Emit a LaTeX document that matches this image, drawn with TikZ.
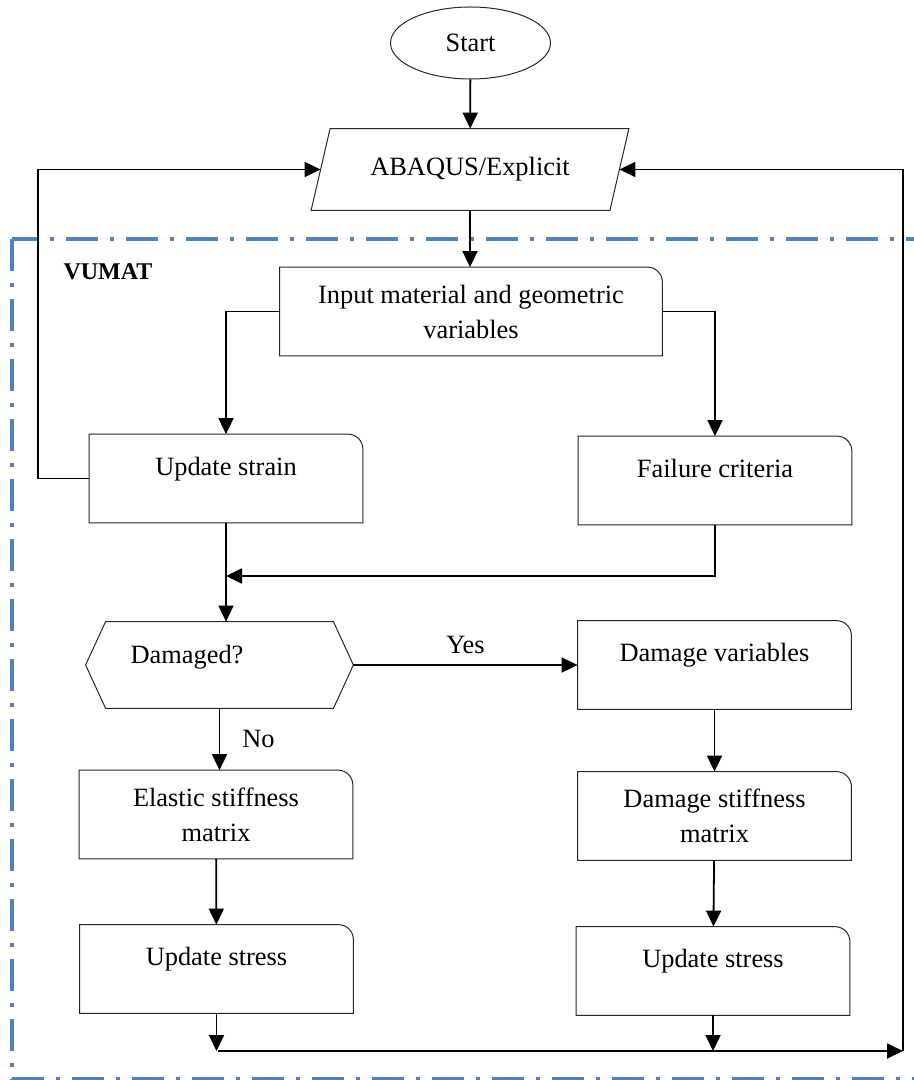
\documentclass[tikz,border=0pt]{standalone}
\usepackage{fontspec}
\setmainfont{Liberation Serif}
\usetikzlibrary{arrows.meta,positioning,shapes.geometric,calc}
\definecolor{frameblue}{RGB}{79,129,189}
\tikzset{
	txt/.style={font=\fontsize{13.2}{17.5}\selectfont, align=center, inner sep=0pt},
	card/.style={txt, minimum width=136.5pt, minimum height=44pt},
	oneline/.style={text height=9pt, text depth=12.3pt},
	box/.style={line width=0.5pt, draw=black!85},
	link/.style={line width=0.9pt},
	arr/.style={link, -{Triangle[length=8pt,width=7.5pt]}}
}
\def\cardshape(#1){\draw[box] (#1.south west) -- (#1.north west) -- ([xshift=-7.5pt]#1.north east) arc (90:0:7.5pt) -- (#1.south east) -- cycle;}
\def\hexshape(#1){\draw[box] (#1.west) -- ([xshift=10pt]#1.north west) -- ([xshift=-10pt]#1.north east) -- (#1.east) -- ([xshift=-10pt]#1.south east) -- ([xshift=10pt]#1.south west) -- cycle;}
\def\slantshape(#1){\draw[box] ([xshift=9.5pt]#1.north west) -- (#1.north east) -- ([xshift=-9.5pt]#1.south east) -- (#1.south west) -- cycle;}

\begin{document}
\begin{tikzpicture}[x=0.5pt, y=-0.5pt]
			%%%%% START %%%%%
			\useasboundingbox (0,0) rectangle (914,1080);
			\clip (0,0) rectangle (914,1080);
			
			\draw[frameblue, line width=1.7pt, dash pattern=on 16pt off 6pt on 2pt off 6pt] (12,239) rectangle (925,1079);
			\node[font=\fontsize{12}{14}\selectfont\bfseries] (vumat) at (108,272) {VUMAT};
			
			\node[txt, ellipse, box, minimum width=80pt, minimum height=36pt] (start) at (470.5,43) {Start};
			\node[txt, minimum width=158.5pt, minimum height=40.5pt] (abaqus) at (470,169.5) {ABAQUS/Explicit};
			\slantshape(abaqus)
			\coordinate (abqin) at ([xshift=4.75pt]abaqus.west);
			\coordinate (abqout) at ([xshift=-4.75pt]abaqus.east);
			
			\node[card, minimum width=191pt] (input) at (471,311.5) {Input material and geometric\\variables};
			\cardshape(input)
			
			\node[card, oneline] (strain) at (226,478.5) {Update strain};
			\cardshape(strain)
			\node[card, oneline] (failure) at (715,480.5) {Failure criteria};
			\cardshape(failure)
			
			\node[txt, minimum width=133.5pt, minimum height=43pt,
				label={[txt, name=dmgtxt, xshift=-16.25pt, yshift=4pt]center:Damaged?}] (dmg) at (219.5,665) {};
			\hexshape(dmg)
			\node[card, oneline] (dvar) at (714.5,665) {Damage variables};
			\cardshape(dvar)
			
			\node[card] (elastic) at (216,814.5) {Elastic stiffness\\matrix};
			\cardshape(elastic)
			\node[card] (dstiff) at (714.5,816) {Damage stiffness\\matrix};
			\cardshape(dstiff)
			
			\node[card, oneline] (stressL) at (216.5,969) {Update stress};
			\cardshape(stressL)
			\node[card, oneline] (stressR) at (713,971) {Update stress};
			\cardshape(stressR)
			
			\coordinate (lft) at (38,169.5);
			\coordinate (join) at (226,576);
			\coordinate (botl) at (218,1051);
			\coordinate (botr) at (903,1051);
			
			\draw[arr] (start) -- (abaqus);
			\draw[arr] (abaqus.south) -- (abaqus.south |- input.north);
			\draw[arr] (input.west) -| (strain.north);
			\draw[arr] (input.east) -| (failure.north);
			\draw[arr] (strain.west) -| (lft) -- (abqin);
			\draw[arr] (strain.south) -- (strain.south |- dmg.north);
			\draw[arr] (failure.south) |- (join);
			\draw[arr] (dmg.east) -- node[txt, above=5pt] (yes) {Yes} (dmg.east -| dvar.west);
			\draw[arr] (dmg.south) -- node[txt, right=11pt] (no) {No} (dmg.south |- elastic.north);
			\draw[arr] (dvar) -- (dstiff);
			\draw[arr] (elastic) -- (stressL);
			\draw[arr] (dstiff) -- (stressR);
			\draw[arr] (stressL.south) -- (stressL.south |- botl);
			\draw[arr] (stressR.south) -- (stressR.south |- botl);
			\draw[arr] (botl) -- (botr);
			\draw[arr] (botr) |- (abqout);
			
			%%%%% END %%%%%
		\end{tikzpicture}
\end{document}
